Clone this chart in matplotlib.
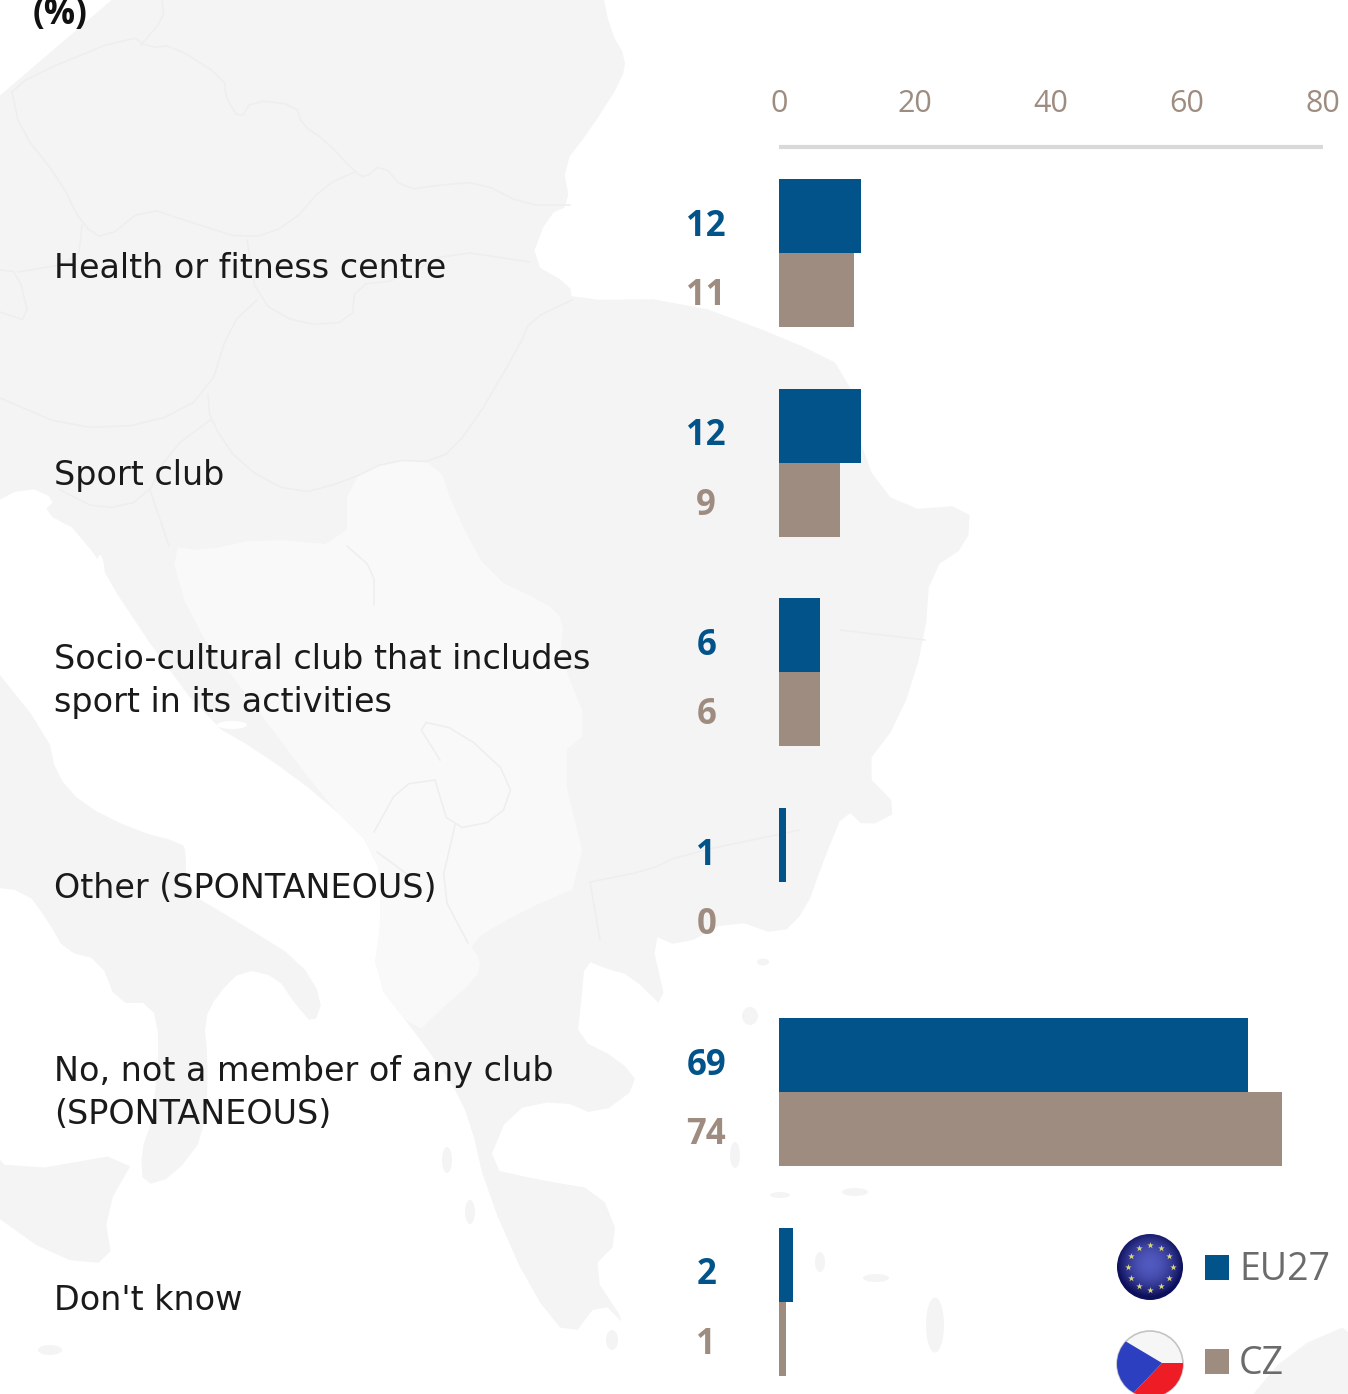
import matplotlib
matplotlib.use("Agg")
import matplotlib.pyplot as plt
from matplotlib.patches import Polygon, Circle, Ellipse, Rectangle
import numpy as np

plt.rcParams['font.family'] = ['DejaVu Sans']

categories = ["Health or fitness centre", "Sport club",
              "Socio-cultural club that includes\nsport in its activities",
              "Other (SPONTANEOUS)",
              "No, not a member of any club\n(SPONTANEOUS)", "Don't know"]
eu27 = [12, 12, 6, 1, 69, 2]
cz = [11, 9, 6, 0, 74, 1]
x_ticks = [0, 20, 40, 60, 80]

BLUE = "#01538a"
BROWN = "#9f8c80"
LAND = "#f4f4f5"
LIGHT = "#f9f9f9"
EDGE = "#eeeeef"
OPEN = ['Open Sans', 'DejaVu Sans']

W, H = 1348, 1394
fig = plt.figure(figsize=(W / 100, H / 100), dpi=100, facecolor="white")


def smooth(pts, closed=True, n=1):
    # corner cutting, the map outlines were only traced roughly
    pts = np.array(pts, dtype=float)
    for _ in range(n):
        if closed:
            nxt = np.roll(pts, -1, axis=0)
            pts = np.column_stack([0.75 * pts + 0.25 * nxt, 0.25 * pts + 0.75 * nxt]).reshape(-1, 2)
        else:
            a, b = pts[:-1], pts[1:]
            mid = np.column_stack([0.75 * a + 0.25 * b, 0.25 * a + 0.75 * b]).reshape(-1, 2)
            pts = np.vstack([pts[0], mid, pts[-1]])
    return pts


# background layer, works in picture pixels
bg = fig.add_axes([0, 0, 1, 1], zorder=0)
bg.set_xlim(0, W)
bg.set_ylim(H, 0)
bg.axis("off")

land = [(-20, -20), (600, -20), (610, 30), (626, 58), (622, 80), (590, 130), (563, 165), (570, 205),
        (548, 215), (530, 262), (570, 285), (572, 300), (680, 299), (790, 340), (850, 370),
        (862, 460), (900, 510), (970, 505), (968, 545), (930, 570), (925, 640), (900, 720),
        (862, 770), (901, 810), (866, 828), (845, 808), (823, 862), (806, 910), (780, 936),
        (732, 919), (680, 947), (650, 934), (668, 1012), (630, 975), (607, 969), (585, 960),
        (581, 1004), (577, 1038), (620, 1060), (640, 1085), (598, 1116), (560, 1100),
        (510, 1110), (486, 1168), (540, 1180), (600, 1190), (620, 1240), (590, 1270),
        (629, 1329), (600, 1300), (570, 1340), (530, 1290), (486, 1190), (470, 1120),
        (451, 1082), (416, 1034), (373, 978), (382, 912), (377, 852), (325, 800), (260, 752),
        (208, 722), (130, 616), (82, 533), (43, 512), (56, 499), (26, 486), (-20, 510)]
italy = [(-20, 650), (48, 735), (56, 774), (82, 804), (134, 830), (182, 843), (186, 852),
         (186, 891), (243, 925), (299, 960), (323, 999), (314, 1025), (295, 1004), (277, 977),
         (243, 969), (217, 995), (204, 1021), (208, 1060), (206, 1134), (173, 1177), (143, 1186),
         (141, 1151), (152, 1121), (160, 1043), (152, 1003), (117, 1003), (100, 960), (65, 951),
         (48, 921), (26, 891), (-20, 886)]
sicily = [(-20, 1140), (13, 1173), (139, 1151), (104, 1212), (113, 1264), (56, 1259), (-20, 1205)]
balkan_light = [(169, 546), (204, 551), (260, 538), (347, 546), (347, 481), (390, 460), (438, 462),
                (455, 512), (490, 577), (546, 603), (564, 620), (560, 655), (590, 730), (559, 756),
                (590, 882), (520, 912), (468, 943), (481, 960), (477, 978), (438, 1012), (416, 1034),
                (373, 978), (382, 912), (377, 852), (325, 800), (250, 700), (190, 620)]
turkey = [(1360, 1320), (1290, 1350), (1240, 1410), (1360, 1410)]
for pts, col in [(land, LAND), (italy, LAND), (sicily, LAND), (turkey, LAND), (balkan_light, LIGHT)]:
    bg.add_patch(Polygon(smooth(pts), closed=True, fc=col, ec="none", zorder=1))

islands = [(750, 1016, 16, 18), (763, 962, 12, 7), (855, 1192, 26, 8), (820, 1262, 10, 20),
           (876, 1278, 26, 8), (935, 1325, 18, 55), (470, 1212, 10, 24), (447, 1160, 10, 26),
           (50, 1350, 24, 10), (612, 1340, 12, 20), (780, 1195, 20, 6), (735, 1155, 10, 26),
           (245, 760, 30, 8), (232, 725, 30, 8), (258, 782, 24, 7), (100, 580, 10, 50)]
for ix, iy, iw, ih in islands:
    bg.add_patch(Ellipse((ix, iy), iw, ih, fc="white" if iy < 800 else LAND, ec="none", zorder=2))

borders = [
    [(141, 45), (164, 18), (162, 0)],
    [(12, 92), (30, 76), (130, 35), (150, 48), (172, 45), (224, 78), (226, 98), (240, 120), (252, 100),
     (296, 105), (302, 125), (325, 140), (355, 172), (365, 178), (382, 164), (405, 190), (440, 185),
     (480, 182), (525, 205), (570, 205)],
    [(12, 92), (20, 130), (60, 180), (82, 225), (105, 240), (145, 207), (190, 222), (247, 240),
     (290, 225), (325, 185), (355, 172)],
    [(0, 270), (18, 272), (30, 322), (0, 312)],
    [(82, 225), (78, 262), (18, 272)],
    [(247, 240), (257, 300), (300, 325), (352, 322), (355, 285), (400, 280), (450, 250), (530, 262)],
    [(257, 300), (230, 325), (208, 395), (150, 425), (70, 428), (0, 398)],
    [(208, 395), (210, 420), (240, 465), (295, 495), (347, 481), (390, 460), (438, 462), (470, 430),
     (520, 345), (530, 320), (572, 300)],
    [(60, 490), (100, 510), (145, 500), (170, 450), (210, 420)],
    [(169, 546), (150, 490)],
    [(347, 546), (374, 570), (374, 605)],
    [(440, 760), (415, 720), (460, 730), (514, 780), (500, 820), (450, 830), (435, 780)],
    [(374, 832), (400, 785), (435, 780)],
    [(377, 852), (415, 880)],
    [(590, 882), (650, 870), (680, 855), (800, 830)],
    [(468, 943), (440, 890), (455, 825)],
    [(840, 630), (925, 640)],
    [(590, 882), (600, 940)],
]
for line in borders:
    sm = smooth(line, closed=False)
    bg.plot(sm[:, 0], sm[:, 1], color=EDGE, lw=1.1, zorder=3, solid_joinstyle="round")

# title fragment, cut off by the top edge
bg.text(33, 15, "(%)", fontsize=25, fontweight="bold", color="#111111", va="center", ha="left",
        family=OPEN, zorder=5)

label_x = 54
label_y = [269, 475, 681, 889, 1093, 1301]
for text, ly in zip(categories, label_y):
    bg.text(label_x, ly, text, fontsize=24, color="#1a1a1a", va="center", ha="left",
            linespacing=1.4, zorder=5)

# bars
ax = fig.add_axes([779 / W, 0, (1323 - 779) / W, (H - 147) / H], zorder=2)
ax.patch.set_alpha(0)
rows = np.arange(len(categories))
bar_h = 0.353
ax.barh(rows - bar_h / 2, eu27, height=bar_h, color=BLUE, zorder=3)
ax.barh(rows + bar_h / 2, cz, height=bar_h, color=BROWN, zorder=2)
ax.set_xlim(0, 80)
ax.set_ylim(5.44, -0.505)
ax.xaxis.tick_top()
ax.set_xticks(x_ticks)
ax.set_yticks([])
ax.tick_params(axis="x", length=0, pad=20, labelsize=22, labelcolor=BROWN)
for tl in ax.get_xticklabels():
    tl.set_family(OPEN)
for side in ["left", "right", "bottom"]:
    ax.spines[side].set_visible(False)
ax.spines["top"].set_color("#d9d9d9")
ax.spines["top"].set_linewidth(3)
ax.spines["top"].set_capstyle("butt")

for i in rows:
    ax.text(-10.7, i - 0.125, str(eu27[i]), color=BLUE, fontsize=25, fontweight="bold",
            ha="center", va="center", clip_on=False, family=OPEN)
    ax.text(-10.7, i + 0.205, str(cz[i]), color=BROWN, fontsize=25, fontweight="bold",
            ha="center", va="center", clip_on=False, family=OPEN)

# legend with flags, on its own layer
top = fig.add_axes([0, 0, 1, 1], zorder=3)
top.set_xlim(0, W)
top.set_ylim(H, 0)
top.axis("off")


def shaded_disc(cx, cy, r, inner, outer):
    yy, xx = np.mgrid[-1:1:120j, -1:1:120j]
    d = np.clip(np.sqrt(xx ** 2 + (yy + 0.1) ** 2), 0, 1)[..., None]
    img = np.array(inner) * (1 - d ** 2) + np.array(outer) * d ** 2
    im = top.imshow(img, extent=(cx - r, cx + r, cy + r, cy - r), zorder=4, interpolation="bilinear")
    im.set_clip_path(Circle((cx, cy), r, transform=top.transData))


eu_c = (1150, 1267)
shaded_disc(eu_c[0], eu_c[1], 33, (0.32, 0.35, 0.75), (0.05, 0.06, 0.35))
ang = np.deg2rad(np.arange(0, 360, 30))
top.scatter(eu_c[0] + 22.5 * np.cos(ang), eu_c[1] + 22.5 * np.sin(ang), marker="*", s=24,
            color="#d8d878", lw=0, zorder=5)

cz_c = (1150, 1364)
r = 33
top.add_patch(Circle(cz_c, r, fc="#f6f6f6", ec="#c4c4c4", lw=1.2, zorder=4))
clip = Circle(cz_c, r, transform=top.transData)
red = Polygon([(1162, 1363), (1190, 1363), (1190, 1405), (1122, 1405)], fc="#ee1c25", ec="none", zorder=5)
blue = Polygon([(1162, 1363), (1110, 1332), (1110, 1405), (1122, 1405)], fc="#2c3fc0", ec="none", zorder=6)
top.add_patch(red)
top.add_patch(blue)
red.set_clip_path(clip)
blue.set_clip_path(clip)

top.add_patch(Rectangle((1205, 1255), 24, 25, fc=BLUE, ec="none", zorder=4))
top.add_patch(Rectangle((1205, 1349), 24, 25, fc=BROWN, ec="none", zorder=4))
top.text(1239, 1270, "EU27", fontsize=27, color="#6b6b6b", va="center", ha="left", family=OPEN, zorder=5)
top.text(1239, 1364, "CZ", fontsize=27, color="#6b6b6b", va="center", ha="left", family=OPEN, zorder=5)
top.set_xlim(0, W)
top.set_ylim(H, 0)
top.set_aspect("auto")

fig.savefig("out.png", dpi=100)
